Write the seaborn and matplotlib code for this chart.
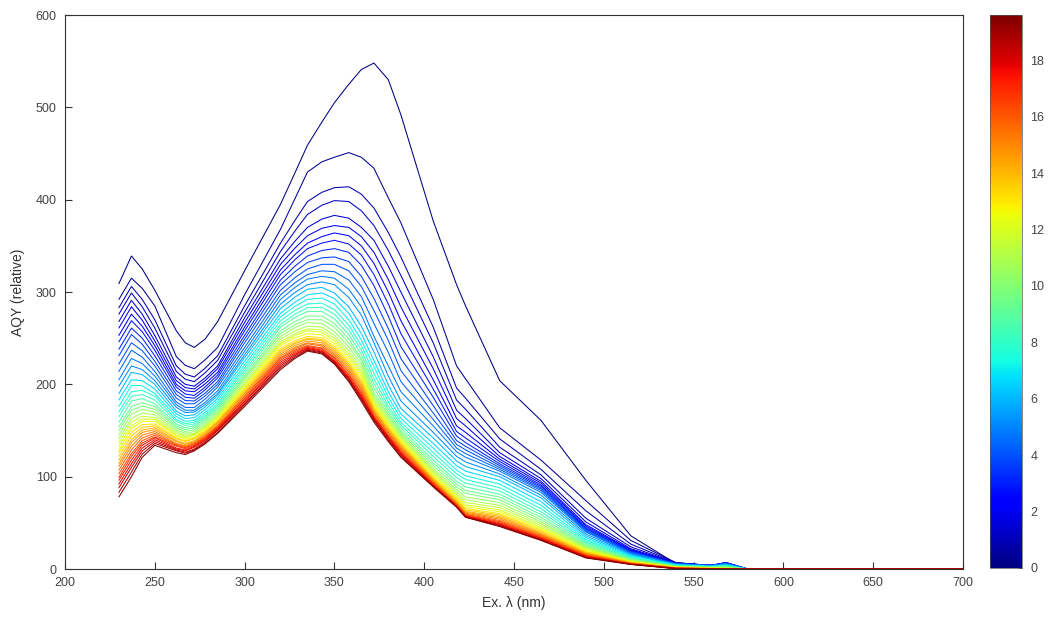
import matplotlib
matplotlib.use("Agg")
import matplotlib.pyplot as plt
import pandas as pd
import seaborn as sns
from matplotlib.colors import Normalize
from matplotlib.cm import ScalarMappable

# Irradiation time of each spectrum (colour scale)
times = [0, 0.4, 0.8, 1.2, 1.6, 2.0, 2.4, 2.8, 3.2, 3.6, 4.0, 4.4, 4.8, 5.2, 6.0, 6.6, 7.2, 7.75, 8.3, 8.8,
         9.35, 9.9, 10.4, 10.95, 11.5, 12.0, 12.55, 13.1, 13.6, 14.15, 14.7, 15.2, 15.75, 16.3, 16.8,
         17.35, 17.9, 18.4, 18.95, 19.5]

# AQY of every spectrum (one value per time) at each excitation wavelength
at_230 = [309, 292, 283, 276, 268, 261, 253, 246, 238, 231, 222, 214, 205, 198, 190, 183, 176, 170, 165, 159,
          154, 150, 145, 141, 137, 133, 129, 126, 122, 118, 114, 111, 107, 103, 99, 96, 92, 88, 83, 78]
at_237 = [339, 315, 306, 299, 291, 284, 276, 269, 261, 254, 245, 237, 228, 220, 213, 205, 199, 192, 187, 182,
          176, 172, 168, 163, 159, 155, 152, 148, 144, 140, 137, 133, 129, 125, 122, 118, 114, 110, 105, 100]
at_243 = [325, 304, 292, 284, 276, 269.5, 263, 257, 250, 243.5, 236.5, 229.5, 222.5, 216, 210.5, 204, 198.5,
          193.5, 189, 184.5, 180, 176.5, 173, 169, 165.5, 162.5, 160, 156.5, 153.5, 150.5, 148, 145, 142, 139,
          136.5, 134, 131, 128, 124.5, 121]
at_250 = [302, 285, 270, 261, 253, 247, 242, 237, 231, 225, 220, 214, 209, 204, 200, 195, 190, 187, 183, 179,
          176, 173, 170, 167, 164, 162, 160, 157, 155, 153, 151, 149, 147, 145, 143, 142, 140, 138, 136, 134]
at_262 = [258, 230, 220, 214, 208, 204, 200, 197, 193, 189, 185, 181, 178, 175, 171, 168, 165, 162, 160, 157,
          155, 153, 151, 149, 147, 145, 144, 142, 141, 139, 138, 136, 135, 134, 133, 131, 130, 129, 128, 126]
at_267 = [245, 220.5, 211, 205.5, 200, 196.5, 193, 189.5, 186, 182.5, 179, 175, 172, 169.5, 166, 163, 160,
          157.5, 155.5, 153, 151, 149, 147, 145, 143.5, 142, 140.5, 139, 138, 136, 135, 133.5, 132.5, 131.5,
          130.5, 129, 128, 126.5, 125.5, 124]
at_272 = [240, 217, 208, 203, 198, 195, 192, 188, 185, 182, 179, 175, 172, 170, 167, 164, 161, 159, 157, 155,
          153, 151, 149, 147, 146, 145, 143, 142, 141, 139, 138, 137, 136, 135, 134, 133, 132, 130, 129, 128]
at_278 = [249, 226.5, 217.5, 212.5, 207, 204, 200.5, 197, 194, 190.5, 187.5, 184, 180.5, 178, 175.5, 172.5,
          169.5, 167, 165, 163, 161, 159, 157, 155, 154, 152.5, 151, 149.5, 148.5, 147, 146, 144.5, 143.5,
          142.5, 141.5, 140.5, 139.5, 138, 136.5, 135.5]
at_285 = [268, 240, 231, 226, 220, 217, 213, 210, 207, 203, 200, 197, 193, 190, 188, 185, 182, 179, 177, 175,
          173, 171, 169, 167, 166, 164, 163, 161, 160, 159, 158, 156, 155, 154, 153, 152, 151, 150, 148, 147]
at_300 = [323, 297, 285, 278, 272, 267, 262, 258, 253, 249, 245, 240, 236, 232, 229, 225, 221, 218, 215, 212,
          209, 207, 205, 202, 200, 198, 196, 195, 193, 191, 190, 188, 187, 185, 184, 182, 181, 179, 178, 176]
at_320 = [395, 368, 353, 344, 336, 330, 324, 319, 313, 308, 302, 297, 292, 287, 282, 277, 273, 269, 265, 262,
          258, 255, 252, 249, 246, 244, 242, 239, 237, 235, 233, 231, 229, 228, 226, 224, 222, 220, 218, 216]
at_328 = [429, 401, 377.5, 366, 355, 347.5, 340.5, 335, 328, 322, 315.5, 310, 305, 299.5, 294.5, 289, 284.5,
          280, 276, 272.5, 268, 264.5, 261.5, 258, 255, 253, 250.5, 247.5, 245.5, 244, 242, 240, 238.5, 237,
          235.5, 234, 232.5, 231, 229.5, 228]
at_335 = [459, 430, 398, 384, 370, 361, 353, 347, 339, 332, 325, 319, 314, 308, 303, 297, 292, 287, 283, 279,
          274, 270, 267, 263, 260, 258, 255, 252, 250, 249, 247, 245, 244, 242, 241, 240, 239, 238, 237, 236]
at_343 = [484, 441, 408, 394, 379, 369, 360, 353, 345, 337, 330, 323, 317, 311, 305, 299, 293.5, 288,
          283.5, 279, 274, 270, 266, 262, 259, 256.5, 253.5, 250.5, 248.5, 247, 245, 243, 241.5, 239.5, 238.5,
          237, 236, 235, 234, 233]
at_350 = [505, 446, 413, 399, 383, 372, 364, 356, 347, 338, 330, 322, 315, 308, 299, 293, 287, 281, 276, 271,
          266, 262, 257, 253, 250, 247, 244, 241, 239, 237, 235, 233, 231, 229, 228, 226, 225, 224, 223, 222]
at_358 = [525, 451, 414, 398, 380, 370, 361, 352, 343, 333, 323, 313, 303, 294, 284, 277, 270, 264, 259, 254,
          249, 245, 240.5, 236.5, 233, 230, 227, 224, 222, 220, 218, 215.5, 213.5, 211, 210, 208, 207, 205.5,
          204, 203]
at_365 = [541, 446, 406, 388, 370, 360, 350, 340, 329, 317, 306, 295, 284, 275, 263, 255,
          248, 242, 237, 232.5, 228, 226, 222, 218, 214.5, 211.5, 208.5, 205.5, 203, 200.5, 198.5, 196, 194,
          191.5, 190, 188, 186.5, 185, 183.5, 181.5]
at_372 = [548, 434, 391, 372, 356, 343, 331, 319, 307, 293, 280, 266, 252, 245, 235, 226, 219, 212, 206, 201,
          196, 191, 188, 185, 182, 180, 178, 176, 174, 172, 171, 169, 168, 166, 165, 164, 163, 162, 161, 159]
at_380 = [530, 402, 364.5, 345, 328, 313.5, 300, 287, 274, 260.5, 247.5, 234.5, 220, 209, 199.5, 192, 186, 181,
          177, 173.5, 170, 167.5, 165, 162.5, 160, 158, 156, 154.5, 153, 151, 150, 148, 147, 145, 144, 143, 142,
          141, 139.5, 138]
at_387 = [492, 375, 338, 318, 300, 284, 269, 255, 241, 228, 215, 203, 192, 182, 174, 168, 163, 159, 156, 153,
          150, 148, 146, 144, 142, 140, 138.5, 137, 135.5, 134, 132.5, 131, 130, 128.5, 127, 126, 125, 123.5, 122, 121]
at_405 = [377, 292, 262, 245, 230, 217, 205, 195, 186, 177, 169, 162, 155, 148, 142, 136, 131, 126, 122, 118,
          115, 112, 109, 107, 105, 103, 101, 99.5, 98, 97, 96, 95, 94, 93, 92, 91, 90.5, 90, 89.5, 89]
at_418 = [308, 220, 196, 183, 172, 163, 155, 149, 144, 139, 135, 131, 127, 122, 117, 112, 107, 103, 99, 95,
          92, 89, 86, 83.5, 81, 79, 77.5, 76, 74.5, 73, 72, 71, 70, 69.5, 69, 68.5, 68, 67.6, 67.3, 67]
at_423 = [285, 206, 185, 173, 163, 155, 148, 142, 137, 133, 129, 125, 121, 116, 111, 106, 101, 97, 93, 89,
          85, 82, 78, 75, 72, 69.5, 67.5, 65.5, 64, 62.5, 61.5, 60.5, 59.5, 58.7, 58, 57.4, 57, 56.6, 56.3, 56]
at_442 = [204, 153, 141, 132, 126, 122, 119, 116.5, 114, 112, 110, 108, 106, 103, 100, 96, 92, 88, 84.5, 81,
          78, 75, 72, 69, 66.5, 64, 62, 60, 58.5, 57, 55.5, 54, 52.5, 51.3, 50.2, 49.2, 48.3, 47.5, 46.7, 46]
at_465 = [161, 118, 108, 102, 98, 95, 93, 91, 89.5, 88, 86.5, 85, 83, 80, 77, 73, 69, 65.5, 62, 59,
          56, 53.5, 51, 49, 47, 45, 43.5, 42, 40.5, 39, 38, 37, 36, 35, 34.2, 33.4, 32.7, 32, 31.5, 31]
at_490 = [96, 74, 63, 55, 51, 48, 46.5, 45, 44, 43, 42, 41, 40, 38, 36, 34, 32, 30.5, 29, 27.5,
          26, 25, 24, 23, 22, 21, 20, 19, 18.2, 17.5, 16.8, 16.1, 15.5, 14.9, 14.3, 13.8, 13.3, 12.8, 12.4, 12]
at_515 = [36, 31, 27, 24, 22, 21, 20.3, 19.7, 19.2, 18.7, 18.2, 17.7, 17.2, 16.3, 15.4, 14.5, 13.6, 12.8, 12, 11.3,
          10.6, 10, 9.5, 9, 8.6, 8.2, 7.8, 7.5, 7.2, 6.9, 6.6, 6.3, 6, 5.8, 5.6, 5.4, 5.3, 5.2, 5.1, 5]
at_540 = [6, 7, 7, 6.8, 6.6, 6.4, 6.2, 6, 5.9, 5.8, 5.7, 5.6, 5.5, 5.2, 4.9, 4.6, 4.3, 4, 3.7, 3.4,
          3.1, 2.9, 2.7, 2.5, 2.3, 2.1, 1.9, 1.7, 1.5, 1.4, 1.3, 1.2, 1.1, 1, 0.9, 0.8, 0.7, 0.6, 0.5, 0.4]
at_560 = [2, 3, 3.5, 3.8, 4, 4, 4, 4, 4, 3.9, 3.8, 3.7, 3.6, 3.4, 3.2, 3, 2.8, 2.6, 2.4, 2.2,
          2, 1.8, 1.6, 1.4, 1.2, 1.0, 0.9, 0.8, 0.7, 0.6, 0.5, 0.4, 0.35, 0.3, 0.25, 0.2, 0.15, 0.1, 0.05, 0]
at_568 = [1, 4, 5, 6, 6.5, 7, 7, 7, 6.8, 6.5, 6.2, 6, 5.6, 5.2, 4.8, 4.4, 4, 3.6, 3.2, 2.8,
          2.4, 2, 1.7, 1.4, 1.1, 0.9, 0.7, 0.5, 0.4, 0.3, 0.2, 0.15, 0.1, 0.05, 0, 0, 0, 0, 0, 0]
at_580 = [0] * 40
at_700 = [0] * 40

wavelengths = [230, 237, 243, 250, 262, 267, 272, 278, 285, 300, 320, 328, 335, 343, 350, 358, 365,
               372, 380, 387, 405, 418, 423, 442, 465, 490, 515, 540, 560, 568, 580, 700]
profiles = [at_230, at_237, at_243, at_250, at_262, at_267, at_272, at_278, at_285, at_300, at_320,
            at_328, at_335, at_343, at_350, at_358, at_365, at_372, at_380, at_387, at_405, at_418,
            at_423, at_442, at_465, at_490, at_515, at_540, at_560, at_568, at_580, at_700]

records = []
for wl, row in zip(wavelengths, profiles):
    for t, v in zip(times, row):
        records.append((wl, t, v))
df = pd.DataFrame(records, columns=["wl", "t", "aqy"])

sns.set_theme(style="white")
plt.rcParams["font.family"] = ["Liberation Sans", "DejaVu Sans"]

fig = plt.figure(figsize=(10.48, 6.26), dpi=100)
ax = fig.add_axes([0.062, 0.091, 0.857, 0.885])

jet = matplotlib.colormaps["jet"]
norm = Normalize(vmin=0, vmax=19.6)
sns.lineplot(data=df, x="wl", y="aqy", hue="t", palette=jet, hue_norm=norm,
             units="t", estimator=None, legend=False, linewidth=0.75, ax=ax)

ax.set_xlim(200, 700)
ax.set_ylim(0, 600)
ax.set_xticks(range(200, 701, 50))
ax.set_yticks(range(0, 601, 100))
ax.tick_params(direction="in", length=5, width=0.8, color="#333333",
               labelcolor="#444444", labelsize=9, pad=6,
               bottom=True, left=True, top=False, right=False)
for s in ax.spines.values():
    s.set_color("#333333")
    s.set_linewidth(0.8)
ax.set_xlabel("Ex. λ (nm)", fontsize=10, color="#333333", labelpad=5)
ax.set_ylabel("AQY (relative)", fontsize=10, color="#333333", labelpad=8)

cax = fig.add_axes([0.9447, 0.0927, 0.0305, 0.883])
cb = fig.colorbar(ScalarMappable(norm=norm, cmap=jet), cax=cax, ticks=range(0, 19, 2))
cb.outline.set_linewidth(0.5)
cb.outline.set_edgecolor("#555555")
cax.tick_params(direction="in", length=3, width=0.6, color="#333333",
                labelcolor="#444444", labelsize=9, pad=6, right=True, left=False)

fig.savefig("out.png", dpi=100)
